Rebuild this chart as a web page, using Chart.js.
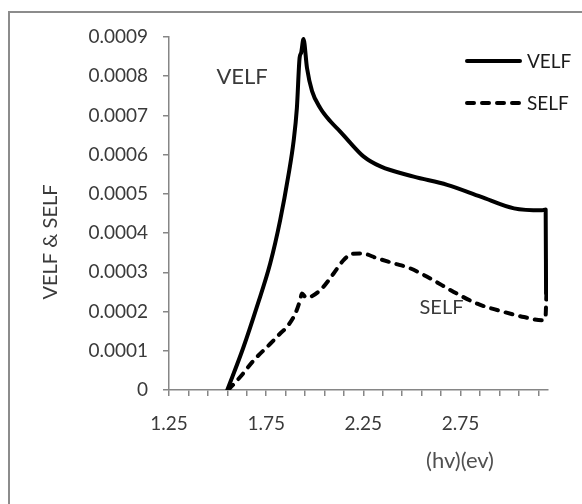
<!DOCTYPE html>
<html>
<head>
<meta charset="utf-8">
<script src="https://cdn.jsdelivr.net/npm/chart.js@4.4.1/dist/chart.umd.min.js"></script>
<style>
	body { margin: 0; background: #ffffff; }
	#chart { display: block; }
</style>
</head>
<body>
<canvas id="chart" width="582" height="504"></canvas>
<script>
// VELF curve (hv in eV)
var velfX = [1.55, 1.633, 1.702, 1.771, 1.822, 1.865, 1.891, 1.908, 1.922, 1.93, 1.942, 1.96, 1.986, 2.028, 2.08, 2.131, 2.183, 2.252, 2.338, 2.509, 2.681, 2.853, 3.025, 3.17, 3.188, 3.19];
var velfY = [0, 0.000109, 0.000212, 0.000323, 0.000433, 0.000549, 0.000634, 0.000719, 0.000847, 0.00086, 0.000895, 0.000821, 0.000762, 0.000719, 0.000685, 0.000659, 0.00063, 0.000595, 0.00057, 0.000544, 0.000523, 0.000493, 0.000463, 0.000458, 0.00046, 0.000247];

// SELF curve
var selfX = [1.555, 1.616, 1.685, 1.771, 1.822, 1.857, 1.90, 1.925, 1.934, 1.955, 1.98, 2.037, 2.097, 2.148, 2.192, 2.243, 2.32, 2.406, 2.492, 2.595, 2.715, 2.836, 2.973, 3.076, 3.171, 3.187, 3.192];
var selfY = [0, 0.000033, 0.000075, 0.000118, 0.000144, 0.000161, 0.000195, 0.00023, 0.000246, 0.000236, 0.000238, 0.000259, 0.000297, 0.000331, 0.000347, 0.000348, 0.000336, 0.000323, 0.00031, 0.000284, 0.00025, 0.00022, 0.000199, 0.000186, 0.000178, 0.000185, 0.000247];

// axes
var xTicks = [1.25, 1.35, 1.45, 1.55, 1.65, 1.75, 1.85, 1.95, 2.05, 2.15, 2.25, 2.35, 2.45, 2.55, 2.65, 2.75, 2.85, 2.95, 3.05, 3.15];
var xLabels = ['1.25', '1.75', '2.25', '2.75'];
var yTicks = [0, 0.0001, 0.0002, 0.0003, 0.0004, 0.0005, 0.0006, 0.0007, 0.0008, 0.0009];

var seriesNames = ['VELF', 'SELF'];
var xTitle = '(hv)(ev)';
var yTitle = 'VELF & SELF';

function toPoints(xs, ys) {
	var pts = [];
	for (var i = 0; i < xs.length; i++) {
		pts.push({ x: xs[i], y: ys[i] });
	}
	return pts;
}

var font = 'Lato, "Open Sans", sans-serif';

// frame, titles, in-chart labels and legend
var textPlugin = {
	id: 'textPlugin',
	beforeDraw: function(chart) {
		var ctx = chart.ctx;
		ctx.save();
		ctx.fillStyle = '#ffffff';
		ctx.fillRect(0, 0, chart.width, chart.height);
		ctx.restore();
	},
	afterDraw: function(chart) {
		var ctx = chart.ctx;
		var sx = chart.scales.x, sy = chart.scales.y;
		ctx.save();

		// outer border (only top + left are visible)
		ctx.strokeStyle = '#8c8c8c';
		ctx.lineWidth = 2;
		ctx.beginPath();
		ctx.moveTo(9, chart.height);
		ctx.lineTo(9, 12);
		ctx.lineTo(chart.width, 12);
		ctx.stroke();

		// axis titles
		ctx.fillStyle = '#505050';
		ctx.textAlign = 'center';
		ctx.textBaseline = 'middle';
		ctx.font = '22px ' + font;
		ctx.fillText(xTitle, 460, 461);

		ctx.fillStyle = '#3a3a3a';
		ctx.font = '20px ' + font;
		ctx.translate(51, 242);
		ctx.rotate(-Math.PI / 2);
		ctx.fillText(yTitle, 0, 0);
		ctx.setTransform(1, 0, 0, 1, 0, 0);

		// labels next to curves
		ctx.fillStyle = '#3a3a3a';
		ctx.font = '22px ' + font;
		ctx.fillText(seriesNames[0], sx.getPixelForValue(1.626), sy.getPixelForValue(0.000797));
		ctx.font = '20px ' + font;
		ctx.fillText(seriesNames[1], sx.getPixelForValue(2.652), sy.getPixelForValue(0.000211));

		// legend
		var ds = chart.data.datasets;
		var rows = [61, 103];
		ctx.textAlign = 'left';
		ctx.font = '19px ' + font;
		for (var i = 0; i < ds.length; i++) {
			ctx.strokeStyle = ds[i].borderColor;
			ctx.lineWidth = ds[i].borderWidth;
			ctx.lineCap = ds[i].borderCapStyle || 'butt';
			ctx.setLineDash(ds[i].borderDash || []);
			ctx.beginPath();
			ctx.moveTo(467, rows[i]);
			ctx.lineTo(520, rows[i]);
			ctx.stroke();
			ctx.setLineDash([]);
			ctx.fillStyle = '#1a1a1a';
			ctx.fillText(ds[i].label, 527, rows[i] + 1);
		}
		ctx.restore();
	}
};

new Chart(document.getElementById('chart'), {
	type: 'line',
	data: {
		datasets: [{
			label: seriesNames[0],
			data: toPoints(velfX, velfY),
			borderColor: '#000000',
			borderWidth: 4,
			borderCapStyle: 'round',
			borderJoinStyle: 'round',
			pointRadius: 0,
			cubicInterpolationMode: 'monotone',
			fill: false
		}, {
			label: seriesNames[1],
			data: toPoints(selfX, selfY),
			borderColor: '#000000',
			borderWidth: 4,
			borderDash: [7, 8],
			borderCapStyle: 'round',
			borderJoinStyle: 'round',
			pointRadius: 0,
			cubicInterpolationMode: 'monotone',
			fill: false
		}]
	},
	options: {
		responsive: false,
		animation: false,
		layout: {
			padding: { left: 0, top: 37, right: 34, bottom: 0 }
		},
		plugins: {
			legend: { display: false },
			tooltip: { enabled: false }
		},
		scales: {
			x: {
				type: 'linear',
				min: 1.25,
				max: 3.2,
				afterBuildTicks: function(axis) {
					axis.ticks = xTicks.map(function(v) { return { value: v }; });
				},
				afterFit: function(scale) { scale.height = 114; },
				border: { color: '#868686', width: 1.5 },
				grid: { drawOnChartArea: false, drawTicks: true, tickLength: 6, color: '#868686', lineWidth: 1.5 },
				ticks: {
					autoSkip: false,
					maxRotation: 0,
					padding: 16,
					color: '#3a3a3a',
					font: { family: font, size: 19 },
					callback: function(value) {
						var s = Number(value).toFixed(2);
						return xLabels.indexOf(s) >= 0 ? s : '';
					}
				}
			},
			y: {
				type: 'linear',
				min: 0,
				max: 0.0009,
				afterBuildTicks: function(axis) {
					axis.ticks = yTicks.map(function(v) { return { value: v }; });
				},
				afterFit: function(scale) { scale.width = 169; },
				border: { color: '#868686', width: 1.5 },
				grid: { drawOnChartArea: false, drawTicks: true, tickLength: 6, color: '#868686', lineWidth: 1.5 },
				ticks: {
					padding: 15,
					color: '#3a3a3a',
					font: { family: font, size: 19 },
					callback: function(value) {
						return value === 0 ? '0' : Number(value).toFixed(4);
					}
				}
			}
		}
	},
	plugins: [textPlugin]
});
</script>
</body>
</html>
